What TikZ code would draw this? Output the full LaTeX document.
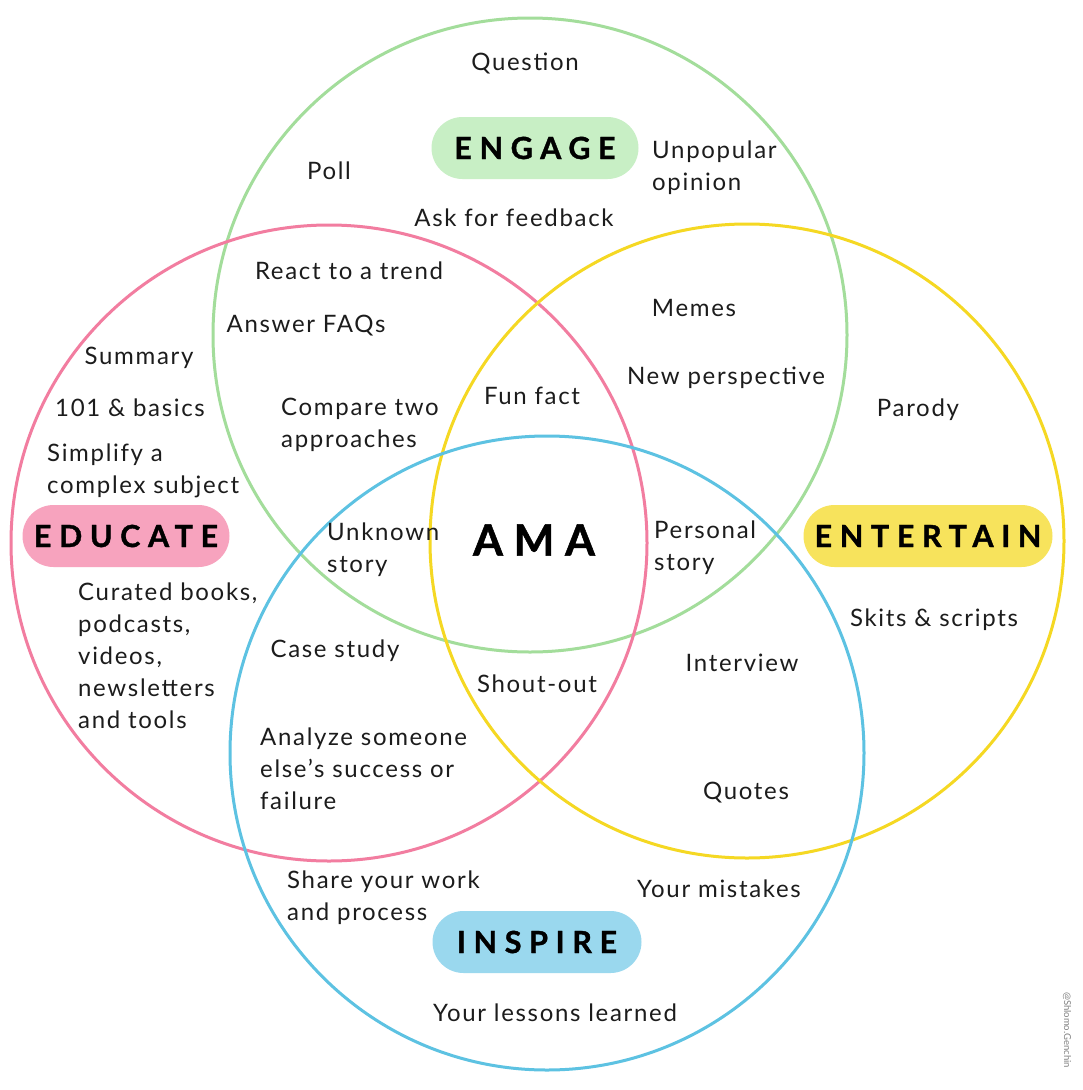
\documentclass[tikz,border=0pt]{standalone}
\usepackage{fontspec}
\setmainfont{Lato}[LetterSpace=7]
\newfontfamily\headfont{Lato}[LetterSpace=25, BoldFeatures={FakeBold=1.2}]
\newfontfamily\creditfont{Lato}
\usetikzlibrary{positioning}
\definecolor{cgreen}{HTML}{A3DD9B}
\definecolor{cgreenbg}{HTML}{C8EFC5}
\definecolor{cpink}{HTML}{F27DA0}
\definecolor{cpinkbg}{HTML}{F7A3BE}
\definecolor{cyellow}{HTML}{F5D823}
\definecolor{cyellowbg}{HTML}{F7E35C}
\definecolor{cblue}{HTML}{5DC2E2}
\definecolor{cbluebg}{HTML}{9AD8EE}
\definecolor{ctext}{HTML}{1C1C1C}

\tikzset{
  item/.style={font=\fontsize{24}{32}\selectfont, text=ctext, inner sep=0pt},
  lefty/.style={item, align=left, anchor=west},
  pill/.style={rounded corners=31pt, minimum height=62pt, inner sep=0pt,
    font=\headfont\bfseries\fontsize{30.5}{30}\selectfont},
  ring/.style={line width=3pt}
}

\begin{document}
\begin{tikzpicture}[x=1pt,y=-1pt]
    \useasboundingbox[fill=white] (0,0) rectangle (1082,1090);

    \draw[ring,cgreen]  (530,335) circle[radius=317pt];
    \draw[ring,cpink]   (329,543) circle[radius=318pt];
    \draw[ring,cyellow] (747,541) circle[radius=317pt];
    \draw[ring,cblue]   (547,753) circle[radius=317pt];

    \node[pill,fill=cgreenbg,minimum width=207pt] (engage) at (535,148) {ENGAGE};
    \node[pill,fill=cpinkbg,minimum width=207pt] (educate) at (126,536) {EDUCATE};
    \node[pill,fill=cyellowbg,minimum width=249pt] (entertain) at (928,536) {ENTERTAIN};
    \node[pill,fill=cbluebg,minimum width=209pt] (inspire) at (537,942) {INSPIRE};
    \node[font=\headfont\bfseries\fontsize{43}{43}\selectfont] (ama) at (534,540) {AMA};

    \node[item] (question) at (525,63) {Question};
    \node[item] (poll) at (329,171) {Poll};
    \node[lefty] (unpopular) at (652,168) {Unpopular\\opinion};
    \node[item] (feedback) at (514,218) {Ask for feedback};
    \node[item] (trend) at (349,271) {React to a trend};
    \node[item] (faqs) at (306,326) {Answer FAQs};
    \node[item] (memes) at (694,308) {Memes};
    \node[item] (perspective) at (726,378) {New perspective};
    \node[item] (summary) at (139,358) {Summary};
    \node[item] (basics) at (130,408) {101 \& basics};
    \node[lefty] (simplify) at (47,471) {Simplify a\\complex subject};
    \node[item] (funfact) at (532,396) {Fun fact};
    \node[lefty] (compare) at (281,425) {Compare two\\approaches};
    \node[item] (parody) at (918,410) {Parody};
    \node[lefty] (unknown) at (327,550) {Unknown\\story};
    \node[lefty] (personal) at (654,548) {Personal\\story};
    \node[lefty] (curated) at (78,656) {Curated books,\\podcasts,\\videos,\\newsletters\\and tools};
    \node[item] (skits) at (934,620) {Skits \& scripts};
    \node[item] (casestudy) at (335,651) {Case study};
    \node[item] (interview) at (742,663) {Interview};
    \node[item] (shoutout) at (537,684) {Shout-out};
    \node[lefty] (analyze) at (260,769) {Analyze someone\\else's success or\\failure};
    \node[item] (quotes) at (746,793) {Quotes};
    \node[lefty] (share) at (287,898) {Share your work\\and process};
    \node[item] (mistakes) at (719,889) {Your mistakes};
    \node[item] (lessons) at (555,1013) {Your lessons learned};

    \node[rotate=-90,text=gray,inner sep=0pt,font=\creditfont\fontsize{9.5}{9.5}\selectfont] (credit) at (1067,1030) {@Shlomo.Genchin};
\end{tikzpicture}
\end{document}
